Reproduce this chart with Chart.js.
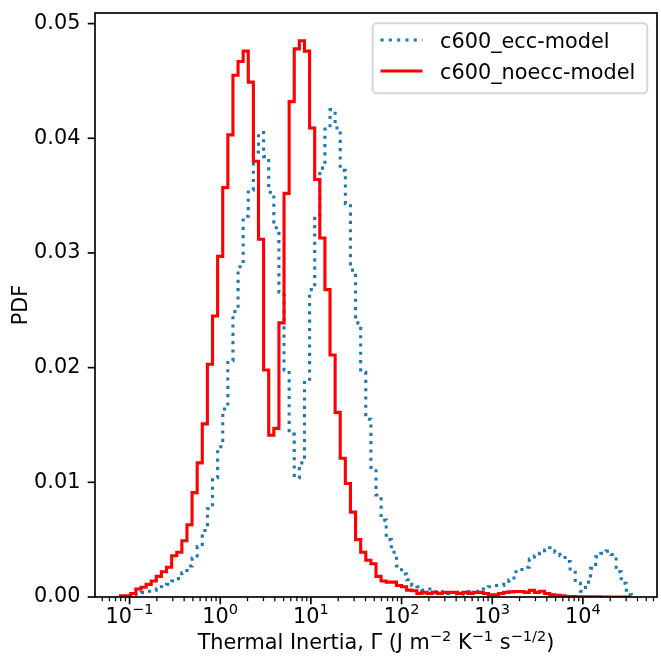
<!DOCTYPE html>
<html>
<head>
<meta charset="utf-8">
<script src="https://cdn.jsdelivr.net/npm/chart.js@4.4.0/dist/chart.umd.min.js"></script>
<style>
  html, body { margin: 0; padding: 0; background: #fff; }
  #wrap { width: 661px; height: 657px; }
</style>
</head>
<body>
<div id="wrap"><canvas id="histChart" width="661" height="657"></canvas></div>
<script>
// log10 range of the shared histogram bins (100 bins)
const binLogStart = -1.0995;
const binLogEnd = 4.5355;
const nBins = 100;

// PDF per bin
const eccPdf = [
  0, 0, 0.0002, 0.0003, 0.0004, 0.0005, 0.0006, 0.0007, 0.0009, 0.0011,
  0.0014, 0.0016, 0.0021, 0.0027, 0.0034, 0.0044, 0.0058, 0.0077, 0.0104, 0.0131,
  0.0164, 0.0206, 0.0249, 0.0288, 0.0332, 0.0355, 0.0388, 0.0405, 0.0384, 0.0353,
  0.0322, 0.0266, 0.0198, 0.0142, 0.0104, 0.0117, 0.0187, 0.0268, 0.0332, 0.0374,
  0.0408, 0.0425, 0.0409, 0.0372, 0.0343, 0.0285, 0.0239, 0.0196, 0.0155, 0.0113,
  0.0089, 0.0067, 0.0050, 0.0039, 0.0027, 0.0020, 0.0015, 0.0010, 0.0009, 0.0006,
  0.0007, 0.00046, 0.0004, 0.00046, 0.0003, 0.00026, 0.0002, 0.0003, 0.00046, 0.00046,
  0.0005, 0.0007, 0.0009, 0.0010, 0.0010, 0.0011, 0.0015, 0.0022, 0.0024, 0.0026,
  0.0033, 0.0036, 0.0038, 0.0041, 0.0043, 0.0039, 0.0036, 0.0031, 0.0023, 0.0012,
  0.0005, 0.0013, 0.0025, 0.0035, 0.0038, 0.0040, 0.0037, 0.0022, 0.0012, 0.0002
];
const noeccPdf = [
  0.0001, 0.0001, 0.0003, 0.0007, 0.00085, 0.0011, 0.0014, 0.0018, 0.0022, 0.0026,
  0.0036, 0.0039, 0.0049, 0.0063, 0.0091, 0.0117, 0.0151, 0.0203, 0.0245, 0.0297,
  0.0357, 0.0403, 0.0455, 0.0467, 0.0476, 0.0449, 0.0380, 0.0312, 0.0198, 0.0141,
  0.0147, 0.0239, 0.0352, 0.0432, 0.0478, 0.0485, 0.0476, 0.0409, 0.0364, 0.0313,
  0.0268, 0.0211, 0.0161, 0.0121, 0.0099, 0.0074, 0.0050, 0.0039, 0.0032, 0.0029,
  0.0018, 0.0014, 0.0013, 0.0013, 0.0010, 0.0009, 0.0006, 0.00055, 0.00032, 0.0004,
  0.0003, 0.0004, 0.0003, 0.0004, 0.0004, 0.0004, 0.0003, 0.0004, 0.0003, 0.0004,
  0.0004, 0.0003, 0.0002, 0.0002, 0.0003, 0.0004, 0.00045, 0.00048, 0.00048, 0.0004,
  0.00058, 0.0004, 0.0005, 0.0003, 0.0002, 0.00015, 0.0001, 0.00005, 0.00003, 0.00002,
  0.00002, 0.00001, 0.00001, 0.00001, 0, 0, 0, 0, 0, 0
];

const seriesNames = ["c600_ecc-model", "c600_noecc-model"];
const xTickExps = [-1, 0, 1, 2, 3, 4];
const yTicks = [0, 0.01, 0.02, 0.03, 0.04, 0.05];

const FONT = '"DejaVu Sans", sans-serif';
const FS = 20.8;
const BIG = FS + 'px ' + FONT;
const SMALL = (FS * 0.7).toFixed(1) + 'px ' + FONT;

// bin edges, log spaced
const binWidth = (binLogEnd - binLogStart) / nBins;
const edges = [];
for (let k = 0; k <= nBins; k++) edges.push(Math.pow(10, binLogStart + k * binWidth));

// outline of a step histogram
function stepPoints(vals) {
    const pts = [{ x: edges[0], y: 0 }];
    vals.forEach((v, i) => pts.push({ x: edges[i], y: v }));
    pts.push({ x: edges[vals.length], y: 0 });
    return pts;
}

// matplotlib-like margins
const pad = 0.05 * (binLogEnd - binLogStart);
const xMin = Math.pow(10, binLogStart - pad);
const xMax = Math.pow(10, binLogEnd + pad);
const yMax = 1.05 * Math.max(...eccPdf, ...noeccPdf);

// draw text made of normal and superscript parts, centred on cx
function drawSupText(ctx, parts, cx, base, raise) {
    let total = 0;
    parts.forEach(p => { ctx.font = p[1] ? SMALL : BIG; total += ctx.measureText(p[0]).width; });
    let x = cx - total / 2;
    ctx.textAlign = 'left';
    ctx.textBaseline = 'alphabetic';
    parts.forEach(p => {
        ctx.font = p[1] ? SMALL : BIG;
        ctx.fillText(p[0], x, p[1] ? base - raise : base);
        x += ctx.measureText(p[0]).width;
    });
}

function noPadding(s) {
    s.paddingTop = 0; s.paddingBottom = 0; s.paddingLeft = 0; s.paddingRight = 0;
}

// ticks, frame, axis titles, legend
const decor = {
    id: 'decor',
    afterDatasetsDraw(chart) {
        const { ctx, chartArea: a, scales: { x, y } } = chart;
        ctx.save();
        ctx.strokeStyle = '#000';
        for (let e = -2; e <= 5; e++) {
            for (let n = 1; n <= 9; n++) {
                const v = n * Math.pow(10, e);
                if (v < x.min || v > x.max) continue;
                const px = x.getPixelForValue(v);
                ctx.lineWidth = n === 1 ? 1.67 : 1.25;
                ctx.beginPath();
                ctx.moveTo(px, a.bottom);
                ctx.lineTo(px, a.bottom + (n === 1 ? 7.3 : 4.2));
                ctx.stroke();
            }
        }
        ctx.lineWidth = 1.67;
        yTicks.forEach(v => {
            const py = y.getPixelForValue(v);
            ctx.beginPath();
            ctx.moveTo(a.left, py);
            ctx.lineTo(a.left - 7.3, py);
            ctx.stroke();
        });
        ctx.strokeRect(a.left, a.top, a.right - a.left, a.bottom - a.top);
        ctx.restore();
    },
    afterDraw(chart) {
        const { ctx, chartArea: a, scales: { x } } = chart;
        ctx.save();
        ctx.fillStyle = '#000';

        // x tick labels 10^n
        xTickExps.forEach(e => {
            const sup = e < 0 ? '\u2212' + (-e) : String(e);
            drawSupText(ctx, [['10', false], [sup, true]], x.getPixelForValue(Math.pow(10, e)), 622.5, 8.5);
        });

        // x title
        drawSupText(ctx, [
            ['Thermal Inertia, \u0393 (J m', false], ['\u22122', true], [' K', false],
            ['\u22121', true], [' s', false], ['\u22121/2', true], [')', false]
        ], (a.left + a.right) / 2, 649, 8.5);

        // y title
        ctx.font = BIG;
        ctx.save();
        ctx.translate(22, (a.top + a.bottom) / 2);
        ctx.rotate(-Math.PI / 2);
        ctx.textAlign = 'center';
        ctx.textBaseline = 'middle';
        ctx.fillText('PDF', 0, 0);
        ctx.restore();

        // legend box
        const bx = 372.7, by = 23.3, bw = 274.6, bh = 70, r = 4.2;
        ctx.beginPath();
        ctx.roundRect(bx, by, bw, bh, r);
        ctx.fillStyle = 'rgba(255,255,255,0.8)';
        ctx.fill();
        ctx.lineWidth = 2;
        ctx.strokeStyle = '#d6d6d6';
        ctx.stroke();

        const rows = [
            { y: 40, color: '#1f77b4', dash: [3.1, 5.2] },
            { y: 71, color: '#ff0000', dash: [] }
        ];
        rows.forEach((row, i) => {
            ctx.beginPath();
            ctx.setLineDash(row.dash);
            ctx.lineWidth = 3.1;
            ctx.strokeStyle = row.color;
            ctx.moveTo(380.5, row.y);
            ctx.lineTo(422.5, row.y);
            ctx.stroke();
            ctx.setLineDash([]);
            ctx.fillStyle = '#000';
            ctx.font = BIG;
            ctx.textAlign = 'left';
            ctx.textBaseline = 'alphabetic';
            ctx.fillText(seriesNames[i], 440, row.y + 8);
        });
        ctx.restore();
    }
};

const histChart = new Chart(document.getElementById('histChart'), {
    type: 'line',
    data: {
        datasets: [{
            label: seriesNames[0],
            data: stepPoints(eccPdf),
            borderColor: '#1f77b4',
            borderWidth: 3.1,
            borderDash: [3.1, 5.2],
            stepped: true,
            pointRadius: 0,
            fill: false,
            order: 2
        }, {
            label: seriesNames[1],
            data: stepPoints(noeccPdf),
            borderColor: '#ff0000',
            borderWidth: 3.1,
            stepped: true,
            pointRadius: 0,
            fill: false,
            order: 1
        }]
    },
    options: {
        responsive: false,
        animation: false,
        devicePixelRatio: 1,
        layout: { padding: { left: 0, right: 4, top: 13, bottom: 0 } },
        plugins: { legend: { display: false }, tooltip: { enabled: false } },
        scales: {
            x: {
                type: 'logarithmic',
                min: xMin,
                max: xMax,
                grid: { display: false, drawTicks: false },
                border: { display: false },
                ticks: { display: false },
                afterFit: (s) => { s.height = 60; noPadding(s); }
            },
            y: {
                min: 0,
                max: yMax,
                grid: { display: false, drawTicks: false },
                border: { display: false },
                ticks: {
                    stepSize: 0.01,
                    includeBounds: false,
                    padding: 14.6,
                    color: '#000',
                    font: { family: FONT, size: FS },
                    callback: (v) => v.toFixed(2)
                },
                afterFit: (s) => { s.width = 95; noPadding(s); }
            }
        }
    },
    plugins: [decor]
});
</script>
</body>
</html>
